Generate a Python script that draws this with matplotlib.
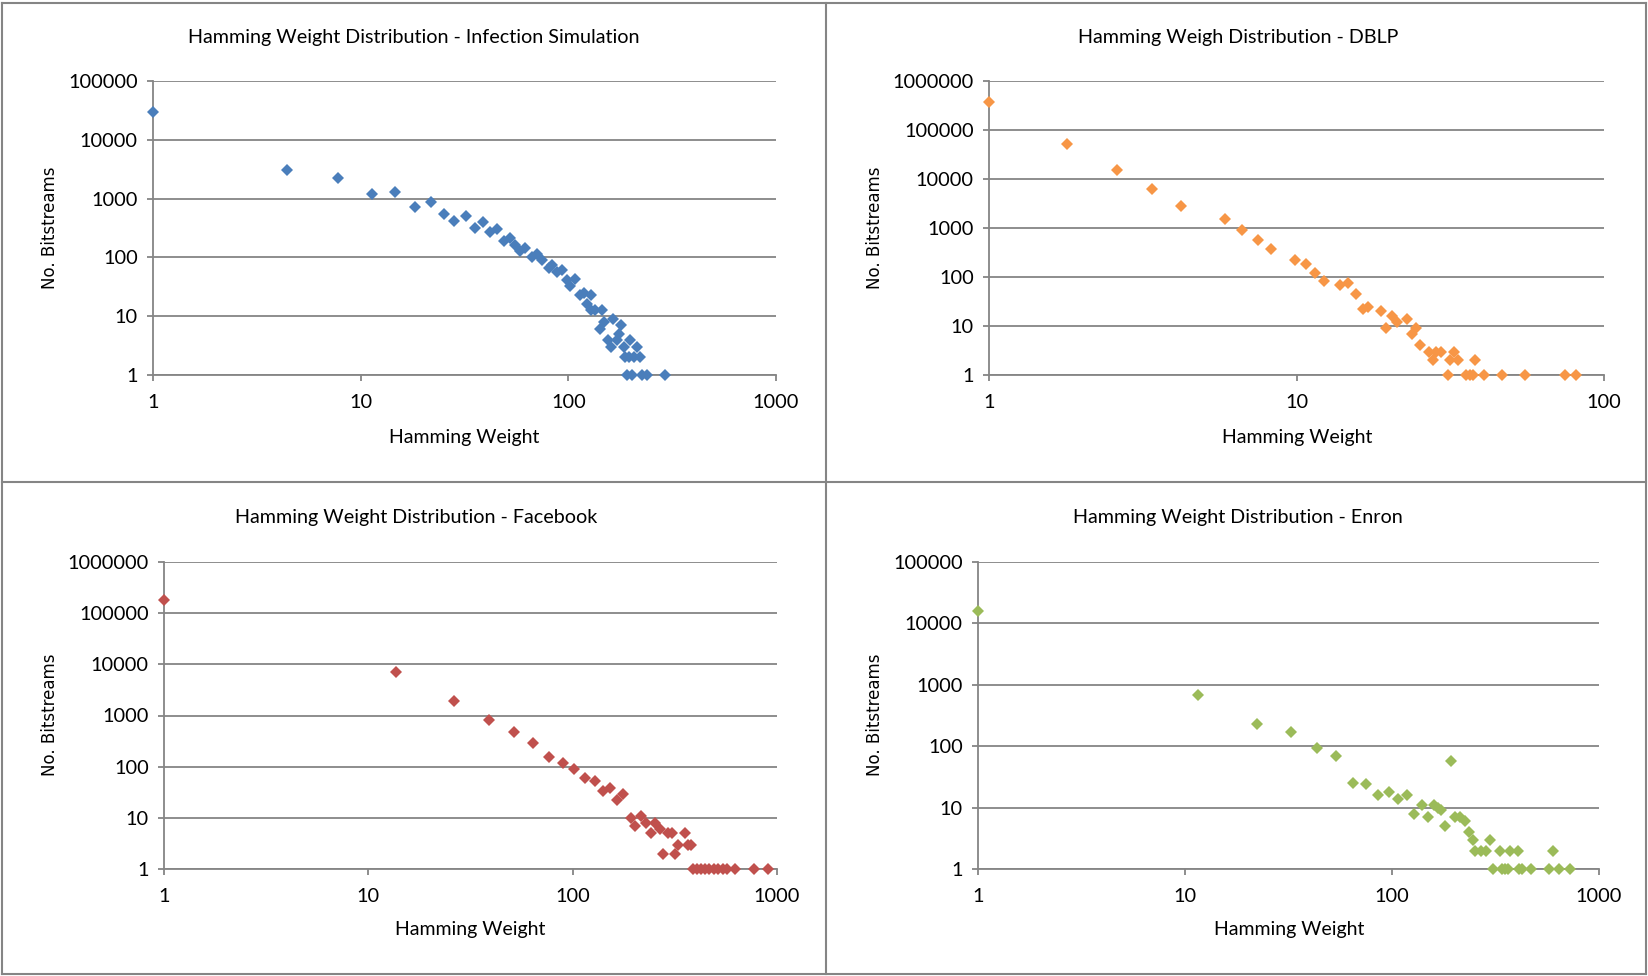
import matplotlib
matplotlib.use('Agg')
import matplotlib.pyplot as plt
from matplotlib.lines import Line2D
from matplotlib.ticker import FixedLocator, FixedFormatter, NullLocator

# values (log-log)
infection_x = [1, 4.4, 7.8, 11.3, 14.7, 18.2, 21.7, 25.2, 28.3, 32, 35.4,
               38.8, 42.1, 45.4, 48.8, 52.2, 55.6, 58.8, 62.1, 66.9, 70.7, 74.8,
               80.5, 83.6, 88.3, 93.4, 98.7, 102.4, 107.5, 113.6, 118.8, 122.4,
               128, 128, 135, 142, 146, 148, 156, 160, 165, 171, 175, 179, 185,
               188, 198, 196, 207, 215, 221, 192, 203, 227, 238, 292]
infection_y = [30000, 3100, 2230, 1210, 1270, 720, 860, 550, 420, 505, 316,
               394, 267, 304, 188, 214, 165, 127, 145, 102, 116, 89,
               66, 75, 56, 60, 42, 33, 43, 23, 25, 16,
               23, 13, 13, 6, 13, 8, 4, 3, 9, 4, 5, 7, 3,
               2, 4, 2, 2, 3, 2, 1, 1, 1, 1, 1]

dblp_x = [1, 1.8, 2.6, 3.4, 4.2, 5.85, 6.66, 7.47, 8.25, 9.9, 10.7, 11.5,
          12.3, 13.9, 14.7, 15.6, 16.4, 17.1, 18.8, 19.6, 20.4, 21.2, 22.9,
          23.7, 24.4, 25.3, 27, 27.7, 28.5, 29.4, 31, 31.5, 32.6, 33.4, 35.7,
          36.6, 37.4, 38.2, 40.7, 46.5, 55.2, 74.7, 81.1]
dblp_y = [378000, 51000, 15300, 6170, 2870, 1560, 890, 580, 376, 224, 186, 120,
          82, 69, 77, 45, 22, 24, 20, 9, 16, 12, 14,
          7, 9, 4, 3, 2, 3, 3, 1, 2, 3, 2, 1,
          1, 1, 2, 1, 1, 1, 1, 1]

facebook_x = [1, 13.6, 26.3, 38.9, 51.6, 64.2, 76.6, 89.3, 102, 115, 128, 141,
              153, 165, 177, 192, 202, 215, 228, 242, 253, 268, 278, 294, 307,
              317, 329, 356, 368, 379, 387, 404, 425, 444, 467, 492, 516, 542,
              571, 623, 774, 907]
facebook_y = [181000, 7080, 1950, 817, 469, 294, 157, 120, 91, 59, 53, 34,
              38, 22, 29, 10, 7, 11, 8, 5, 8, 6, 2, 5, 5,
              2, 3, 5, 3, 3, 1, 1, 1, 1, 1, 1, 1, 1,
              1, 1, 1, 1]

enron_x = [1, 11.6, 22.2, 32.6, 43.4, 53.8, 64.7, 74.8, 85.6, 96.4, 107, 118,
           128, 139, 149, 160, 166, 173, 181, 192, 201, 212, 224, 235, 245,
           253, 268, 283, 331, 371, 405, 599, 297,
           308, 341, 350, 363, 410, 426, 467, 573, 640, 724]
enron_y = [15900, 690, 233, 168, 93, 68, 25, 24, 16, 18, 14, 16,
           8, 11, 7, 11, 10, 9, 5, 58, 7, 7, 6, 4, 3,
           2, 2, 2, 2, 2, 2, 2, 3,
           1, 1, 1, 1, 1, 1, 1, 1, 1, 1]

titles = ['Hamming Weight Distribution - Infection Simulation',
          'Hamming Weigh Distribution - DBLP',
          'Hamming Weight Distribution - Facebook',
          'Hamming Weight Distribution - Enron']
xmax = [1000, 100, 1000, 1000]
ymax = [100000, 1000000, 1000000, 100000]

W, H = 1648.0, 976.0
GRAY = '#858585'
colors = ['#4A7EBB', '#F79646', '#C0504D', '#9BBB59']

# plot boxes in pixels: left, right, top, bottom
boxes = [(153, 776, 81, 375), (989, 1604, 81, 375),
         (164, 777, 562, 869), (978, 1599, 562, 869)]
title_pos = [(414, 38), (1238, 38), (416, 518), (1238, 518)]
xlab_pos = [(464, 437), (1297, 437), (470, 930), (1289, 930)]
ylab_pos = [(50, 228), (875, 228), (50, 715), (875, 715)]

data = [(infection_x, infection_y), (dblp_x, dblp_y),
        (facebook_x, facebook_y), (enron_x, enron_y)]

fig = plt.figure(figsize=(16.48, 9.76), dpi=100)
fig.patch.set_facecolor('white')

for i in range(4):
    l, r, t, b = boxes[i]
    ax = fig.add_axes([l / W, 1 - b / H, (r - l) / W, (b - t) / H])
    x, y = data[i]
    ax.plot(x, y, linestyle='none', marker='D', markersize=6.2,
            markeredgewidth=0, color=colors[i], clip_on=False, zorder=3)
    ax.set_xscale('log')
    ax.set_yscale('log')
    ax.set_xlim(1, xmax[i])
    ax.set_ylim(1, ymax[i])

    xt = [10 ** k for k in range(len(str(xmax[i])))]
    yt = [10 ** k for k in range(len(str(ymax[i])))]
    ax.xaxis.set_major_locator(FixedLocator(xt))
    ax.xaxis.set_major_formatter(FixedFormatter([str(v) for v in xt]))
    ax.yaxis.set_major_locator(FixedLocator(yt))
    ax.yaxis.set_major_formatter(FixedFormatter([str(v) for v in yt]))
    ax.xaxis.set_minor_locator(NullLocator())
    ax.yaxis.set_minor_locator(NullLocator())

    ax.grid(axis='y', color=GRAY, linewidth=1.3)
    ax.set_axisbelow(True)
    for side in ['top', 'right']:
        ax.spines[side].set_visible(False)
    for side in ['left', 'bottom']:
        ax.spines[side].set_color(GRAY)
        ax.spines[side].set_linewidth(1.3)
    ax.tick_params(axis='both', direction='out', length=4, width=1.3,
                   color=GRAY, labelsize=14.4, labelcolor='black')
    ax.tick_params(axis='y', pad=7)
    ax.tick_params(axis='x', pad=10)
    for lab in ax.get_xticklabels() + ax.get_yticklabels():
        lab.set_fontfamily('Lato')

    tx, ty = title_pos[i]
    fig.text(tx / W, 1 - ty / H, titles[i], ha='center', va='center',
             fontsize=14.2, family='Lato')
    lx, ly = xlab_pos[i]
    fig.text(lx / W, 1 - ly / H, 'Hamming Weight', ha='center', va='center',
             fontsize=14, family='Lato')
    yx, yy = ylab_pos[i]
    fig.text(yx / W, 1 - yy / H, 'No. Bitstreams', ha='center', va='center',
             rotation=90, fontsize=12, family='DejaVu Sans')

# chart area borders
for (x0, y0, x1, y1) in [(2, 3, 1646, 3), (2, 974, 1646, 974), (2, 3, 2, 974),
                         (1646, 3, 1646, 974), (826, 3, 826, 974),
                         (2, 482, 1646, 482)]:
    fig.add_artist(Line2D([x0 / W, x1 / W], [1 - y0 / H, 1 - y1 / H],
                          color=GRAY, linewidth=1.5))

fig.savefig('out.png', dpi=100, facecolor='white')
